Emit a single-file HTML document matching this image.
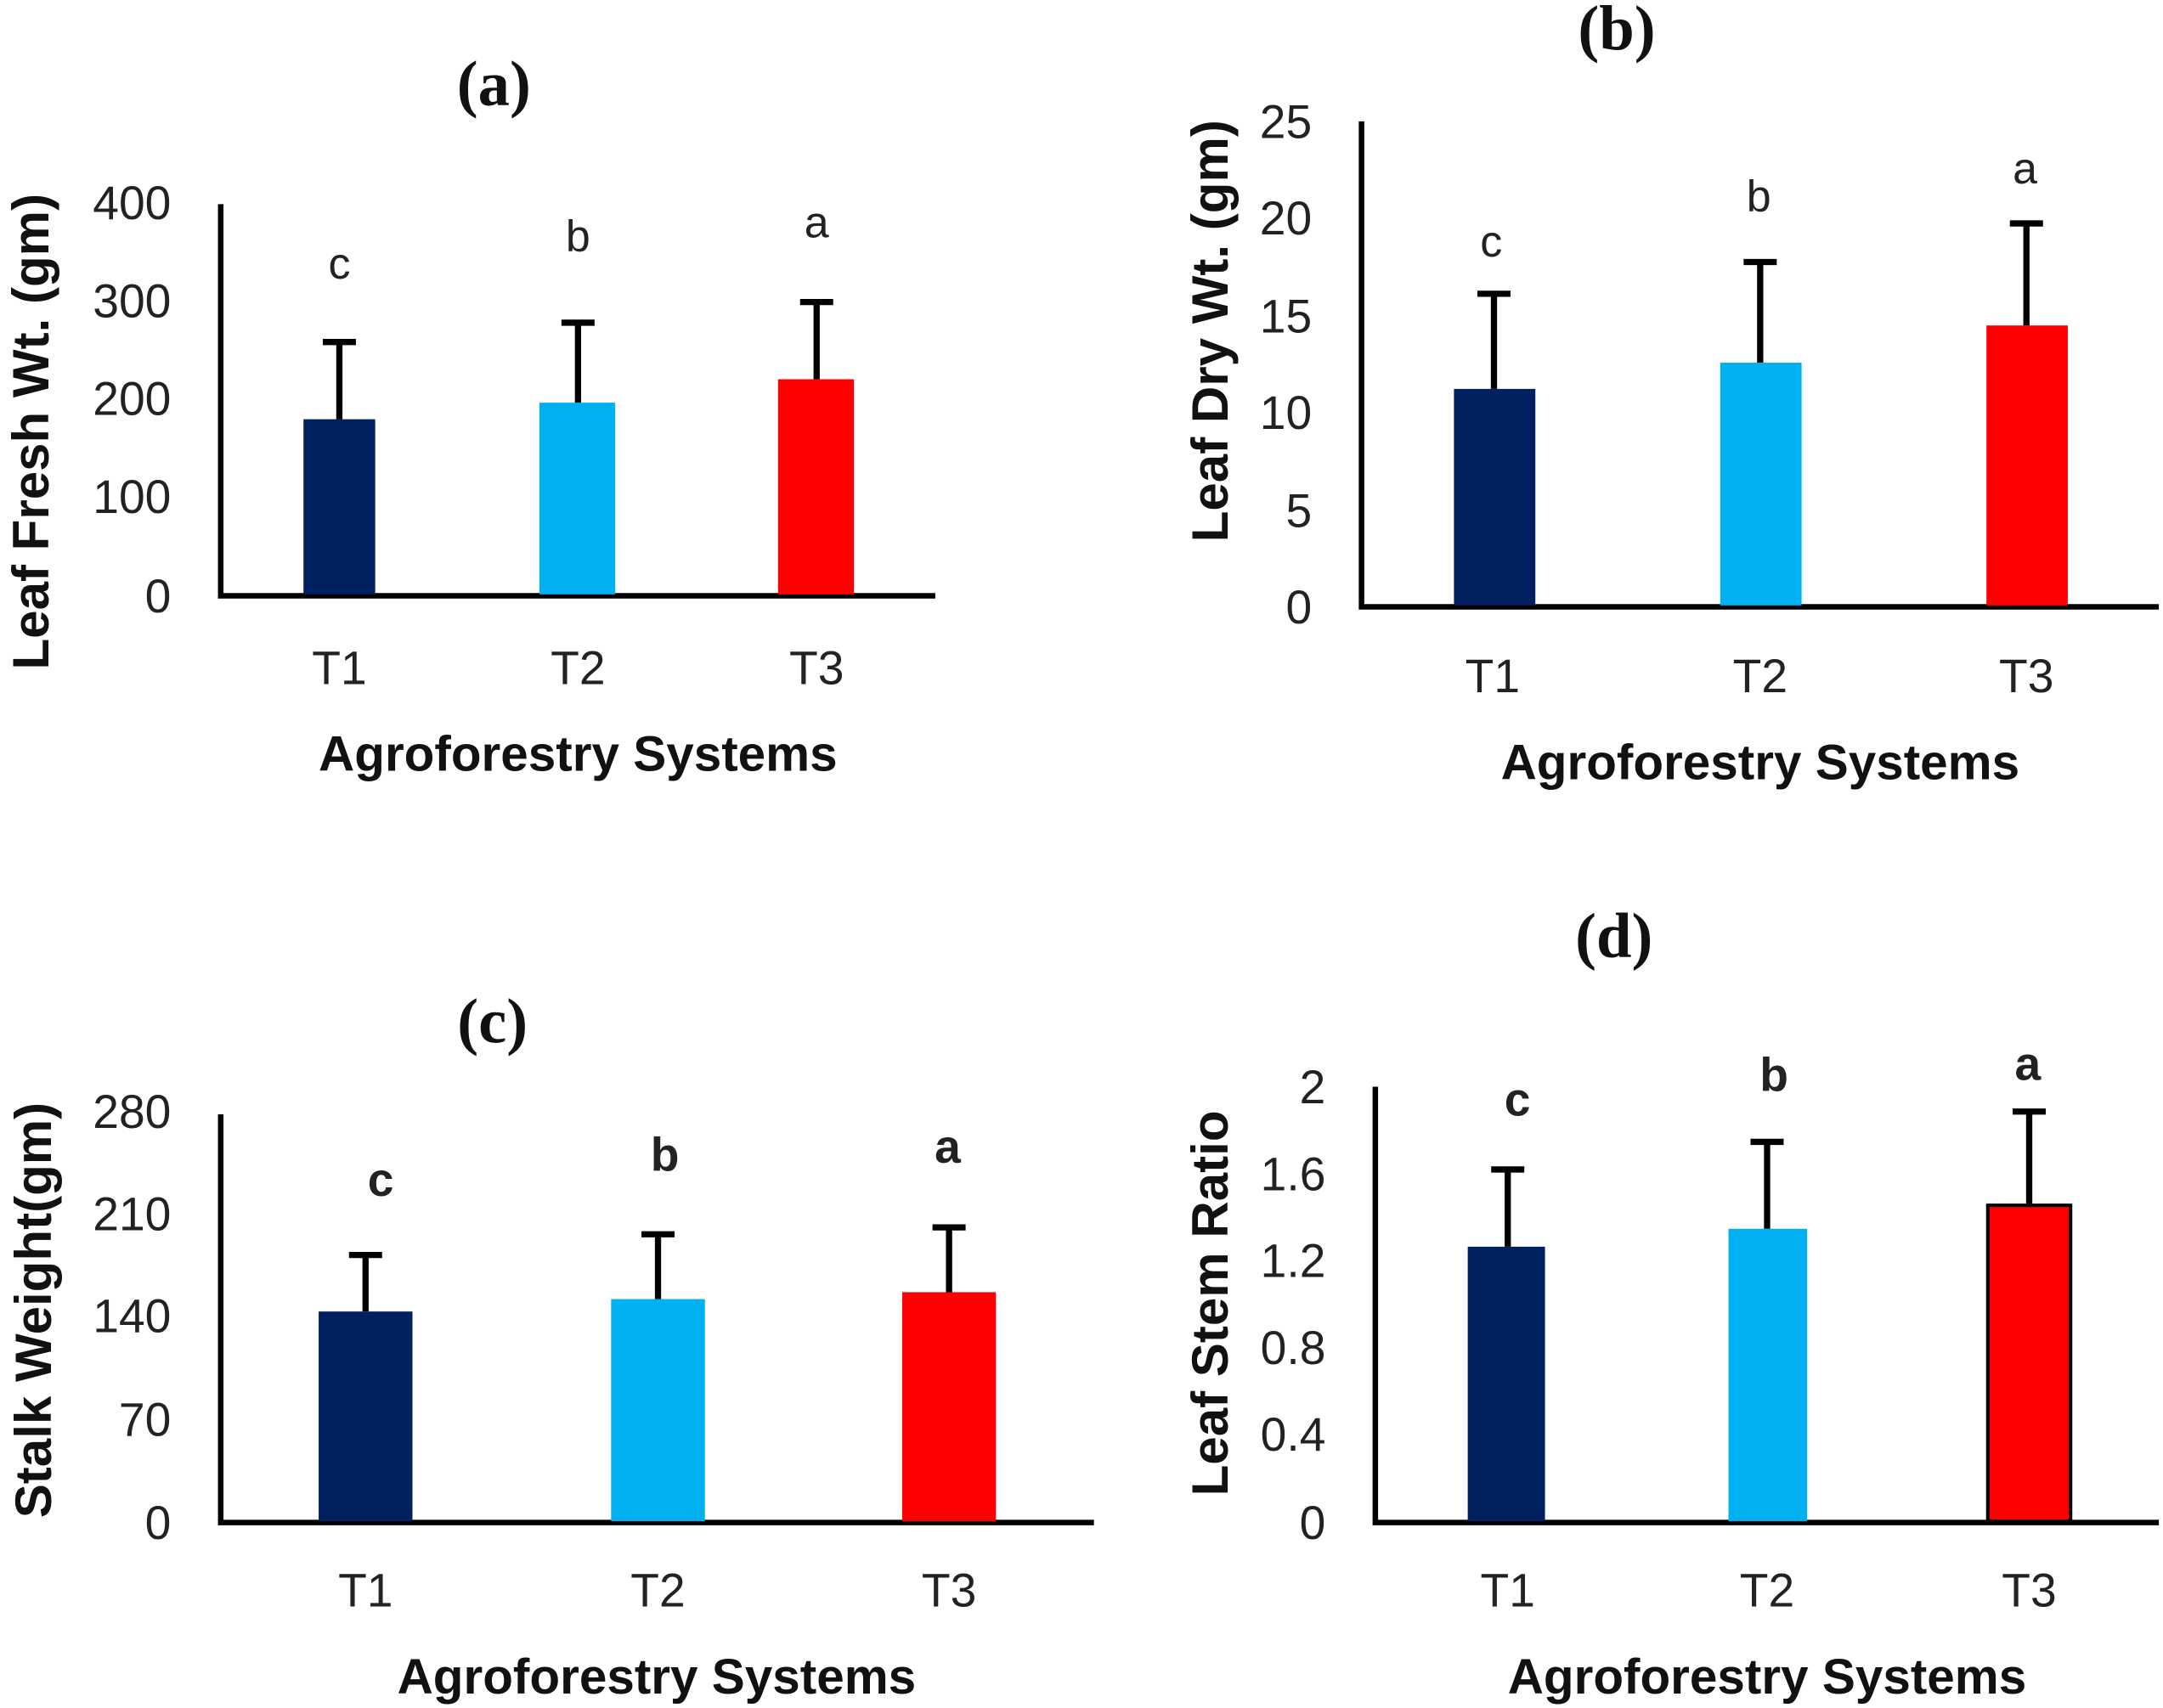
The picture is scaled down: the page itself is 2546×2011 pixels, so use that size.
<!DOCTYPE html>
<html><head><meta charset="utf-8"><style>
html,body{margin:0;padding:0;background:#fff;}
svg{display:block;}
.tk{font-family:"Liberation Sans",sans-serif;font-size:34px;fill:#222;}
.lt{font-family:"Liberation Sans",sans-serif;font-size:32px;fill:#222;}
.lb{font-family:"Liberation Sans",sans-serif;font-size:34px;font-weight:bold;fill:#222;}
.ax{font-family:"Liberation Sans",sans-serif;font-size:36px;font-weight:bold;fill:#111;}
.ay{font-family:"Liberation Sans",sans-serif;font-size:37px;font-weight:bold;fill:#111;}
.tt{font-family:"Liberation Serif",serif;font-size:46px;font-weight:bold;fill:#111;}
</style></head><body>
<svg width="2546" height="2011" viewBox="0 0 1568 1238.5" preserveAspectRatio="none" xmlns="http://www.w3.org/2000/svg">
<g stroke="#000" stroke-width="4" fill="none">
<polyline points="160,148 160,432 678,432"/>
<polyline points="987,88 987,440 1565,440"/>
<polyline points="160,808 160,1104 793,1104"/>
<polyline points="997,788 997,1104 1565,1104"/>
</g>
<rect x="220" y="304" width="52" height="127" fill="#002060"/>
<rect x="391" y="292" width="55" height="139" fill="#00B0F0"/>
<rect x="564" y="275" width="55" height="156" fill="#FF0000"/>
<rect x="1054" y="282" width="59" height="157" fill="#002060"/>
<rect x="1247" y="263" width="59" height="176" fill="#00B0F0"/>
<rect x="1440" y="236" width="59" height="203" fill="#FF0000"/>
<rect x="231" y="951" width="68" height="152" fill="#002060"/>
<rect x="443" y="942" width="68" height="161" fill="#00B0F0"/>
<rect x="654" y="937" width="68" height="166" fill="#FF0000"/>
<rect x="1064" y="904" width="56" height="199" fill="#002060"/>
<rect x="1253" y="891" width="57" height="212" fill="#00B0F0"/>
<rect x="1441" y="874" width="60" height="229" fill="#FF0000" stroke="#000" stroke-width="2.5"/>
<g stroke="#000" stroke-width="4.5" fill="none">
<path d="M246,304V248M234,248H258M419,292V234M407,234H431M592,275V219M580,219H604"/>
<path d="M1083,282V213M1071,213H1095M1276,263V190M1264,190H1288M1469,236V162M1457,162H1481"/>
<path d="M265,951V910M253,910H277M477,942V895M465,895H489M688,937V890M676,890H700"/>
<path d="M1093,904V848M1081,848H1105M1281,891V828M1269,828H1293M1471,874V806M1459,806H1483"/>
</g>
<text class="tt" x="358" y="76" text-anchor="middle">(a)</text>
<text class="tt" x="1172" y="36" text-anchor="middle">(b)</text>
<text class="tt" x="357" y="756" text-anchor="middle">(c)</text>
<text class="tt" x="1170" y="694" text-anchor="middle">(d)</text>
<g class="tk" text-anchor="end">
<text x="124" y="159">400</text><text x="124" y="230">300</text><text x="124" y="301">200</text><text x="124" y="372">100</text><text x="124" y="444">0</text>
<text x="951" y="100">25</text><text x="951" y="170">20</text><text x="951" y="241">15</text><text x="951" y="311">10</text><text x="951" y="382">5</text><text x="951" y="452">0</text>
<text x="124" y="818">280</text><text x="124" y="892">210</text><text x="124" y="966">140</text><text x="124" y="1041">70</text><text x="124" y="1116">0</text>
<text x="961" y="800">2</text><text x="961" y="863">1.6</text><text x="961" y="926">1.2</text><text x="961" y="989">0.8</text><text x="961" y="1052">0.4</text><text x="961" y="1116">0</text>
</g>
<g class="tk" text-anchor="middle">
<text x="246" y="496">T1</text><text x="419" y="496">T2</text><text x="592" y="496">T3</text>
<text x="1082" y="502">T1</text><text x="1276" y="502">T2</text><text x="1469" y="502">T3</text>
<text x="265" y="1165">T1</text><text x="477" y="1165">T2</text><text x="688" y="1165">T3</text>
<text x="1093" y="1165">T1</text><text x="1281" y="1165">T2</text><text x="1471" y="1165">T3</text>
</g>
<g class="lt" text-anchor="middle">
<text x="246" y="202">c</text><text x="419" y="182">b</text><text x="592" y="172">a</text>
<text x="1081" y="186">c</text><text x="1275" y="153">b</text><text x="1468" y="133">a</text>
</g>
<g class="lb" text-anchor="middle">
<text x="276" y="867">c</text><text x="482" y="849">b</text><text x="687" y="843">a</text>
<text x="1100" y="809">c</text><text x="1286" y="791">b</text><text x="1470" y="783">a</text>
</g>
<g class="ax" text-anchor="middle">
<text x="419" y="559">Agroforestry Systems</text>
<text x="1276" y="565">Agroforestry Systems</text>
<text x="476" y="1228">Agroforestry Systems</text>
<text x="1281" y="1228">Agroforestry Systems</text>
</g>
<g class="ay" text-anchor="middle">
<text transform="translate(35,313) rotate(-90)">Leaf Fresh Wt. (gm)</text>
<text transform="translate(890,240) rotate(-90)">Leaf Dry Wt. (gm)</text>
<text transform="translate(37,950) rotate(-90)">Stalk Weight(gm)</text>
<text transform="translate(890,945) rotate(-90)">Leaf Stem Ratio</text>
</g>
</svg>
</body></html>
